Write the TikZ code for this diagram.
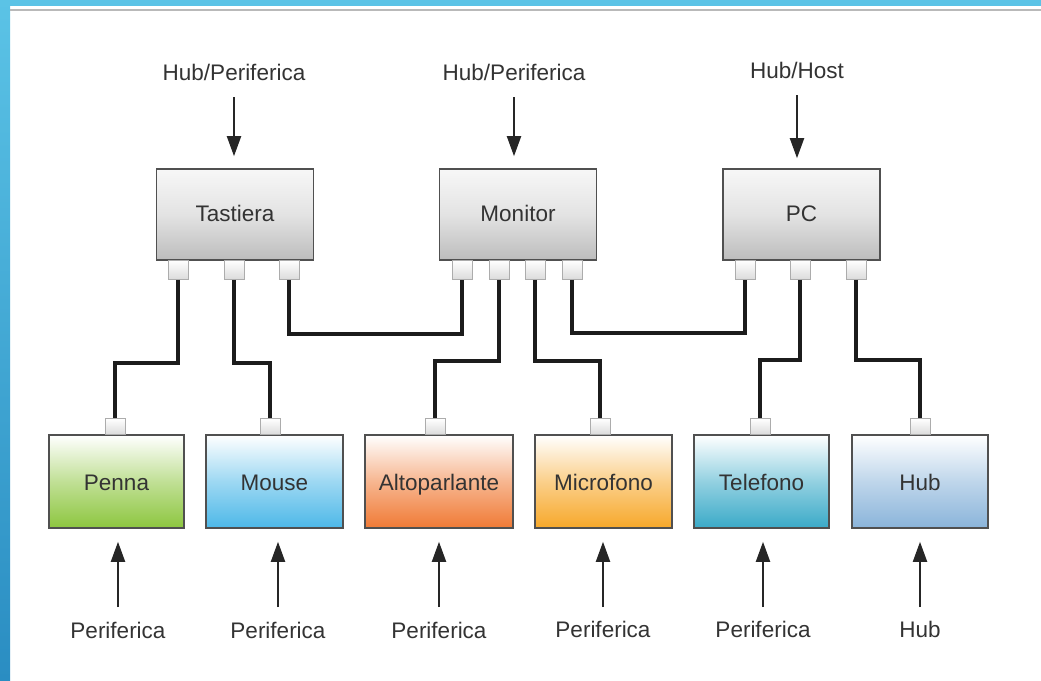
\documentclass[tikz,border=0pt]{standalone}
\usepackage{fontspec}
\setmainfont{Liberation Sans}
\usetikzlibrary{arrows.meta,calc}
\definecolor{textc}{HTML}{333333}
\definecolor{boxline}{HTML}{505050}
\definecolor{wirec}{HTML}{1C1C1C}
\definecolor{barblue}{HTML}{5BC3E6}
\definecolor{barblue2}{HTML}{2A8DC2}
\definecolor{pennac}{HTML}{8DC63F}
\definecolor{mousec}{HTML}{4DB8E8}
\definecolor{altoc}{HTML}{F07A35}
\definecolor{microc}{HTML}{F7A82A}
\definecolor{telc}{HTML}{3AAAC8}
\definecolor{hubc}{HTML}{8AB4DA}
\newcommand\lblfont{\fontsize{22.5}{26}\selectfont}
\begin{document}
\begin{tikzpicture}[x=1pt,y=-1pt,
  topbox/.style={draw=boxline, line width=1.6pt, minimum width=157pt, minimum height=91pt,
    top color=gray!6, bottom color=gray!52, middle color=gray!22, font=\lblfont, text=textc,
    inner sep=0pt, text height=16pt, text depth=3pt},
  botbox/.style={draw=boxline, line width=1.6pt, minimum height=93pt,
    top color=white, bottom color=#1, middle color=#1!55!white, font=\lblfont, text=textc,
    inner sep=0pt, text height=20pt, text depth=3pt},
  plug/.style={draw=gray!65, line width=0.8pt, top color=white, bottom color=gray!28,
    minimum width=20pt, inner sep=0pt},
  wire/.style={draw=wirec, line width=3.4pt},
  arr/.style={draw=black!85, line width=2pt, -{Triangle[length=20pt,width=14pt]}},
  lab/.style={font=\lblfont, text=textc, inner sep=0pt, anchor=base}]
\useasboundingbox (0,0) rectangle (1041,680);
\fill[white] (0,0) rectangle (1041,680);
\shade[top color=barblue, bottom color=barblue2] (0,0) rectangle (10,680);
\fill[barblue] (0,0) rectangle (1041,6);
\draw[gray!55, line width=1.5pt] (10,10) -- (1041,10);

% top boxes
\node[topbox] (tas) at (235,214.5) {Tastiera};
\node[topbox] (mon) at (518,214.5) {Monitor};
\node[topbox] (pc)  at (801.5,214.5) {PC};

% top ports
\node[plug, minimum height=19pt, anchor=north] (t1) at (178,260) {};
\node[plug, minimum height=19pt, anchor=north] (t2) at (234,260) {};
\node[plug, minimum height=19pt, anchor=north] (t3) at (289,260) {};
\node[plug, minimum height=19pt, anchor=north] (m1) at (462,260) {};
\node[plug, minimum height=19pt, anchor=north] (m2) at (499,260) {};
\node[plug, minimum height=19pt, anchor=north] (m3) at (535,260) {};
\node[plug, minimum height=19pt, anchor=north] (m4) at (572,260) {};
\node[plug, minimum height=19pt, anchor=north] (p1) at (745,260) {};
\node[plug, minimum height=19pt, anchor=north] (p2) at (800,260) {};
\node[plug, minimum height=19pt, anchor=north] (p3) at (856,260) {};

% bottom boxes
\node[botbox=pennac, minimum width=135pt] (pen) at (116.5,481.5) {Penna};
\node[botbox=mousec, minimum width=137pt] (mou) at (274.5,481.5) {Mouse};
\node[botbox=altoc, minimum width=148pt] (alt) at (439,481.5) {Altoparlante};
\node[botbox=microc, minimum width=137pt] (mic) at (603.5,481.5) {Microfono};
\node[botbox=telc, minimum width=135pt] (tel) at (761.5,481.5) {Telefono};
\node[botbox=hubc, minimum width=136pt] (hub) at (920,481.5) {Hub};

% bottom ports
\node[plug, minimum height=16pt, anchor=south] (b1) at (115,435) {};
\node[plug, minimum height=16pt, anchor=south] (b2) at (270,435) {};
\node[plug, minimum height=16pt, anchor=south] (b3) at (435,435) {};
\node[plug, minimum height=16pt, anchor=south] (b4) at (600,435) {};
\node[plug, minimum height=16pt, anchor=south] (b5) at (760,435) {};
\node[plug, minimum height=16pt, anchor=south] (b6) at (920,435) {};

% wires
\draw[wire] (t1.south) -- ++(0,83) -| (b1.north);
\draw[wire] (t2.south) -- ++(0,83) -| (b2.north);
\draw[wire] (t3.south) -- ++(0,54) -| (m1.south);
\draw[wire] (m2.south) -- ++(0,81) -| (b3.north);
\draw[wire] (m3.south) -- ++(0,81) -| (b4.north);
\draw[wire] (m4.south) -- ++(0,53) -| (p1.south);
\draw[wire] (p2.south) -- ++(0,80) -| (b5.north);
\draw[wire] (p3.south) -- ++(0,80) -| (b6.north);

% top labels and arrows
\node[lab] (l1) at (234,80) {Hub/Periferica};
\node[lab] (l2) at (514,80) {Hub/Periferica};
\node[lab] (l3) at (797,78) {Hub/Host};
\draw[arr, shorten <=17pt, shorten >=12pt] (l1.base) -- (l1.base |- tas.north);
\draw[arr, shorten <=17pt, shorten >=12pt] (l2.base) -- (l2.base |- mon.north);
\draw[arr, shorten <=17pt, shorten >=10pt] (l3.base) -- (l3.base |- pc.north);

% bottom labels and arrows
\node[lab] (q1) at (118,638) {Periferica};
\node[lab] (q2) at (278,638) {Periferica};
\node[lab] (q3) at (439,638) {Periferica};
\node[lab] (q4) at (603,637) {Periferica};
\node[lab] (q5) at (763,637) {Periferica};
\node[lab] (q6) at (920,637) {Hub};
\draw[arr, shorten <=31pt, shorten >=13pt] (q1.base) -- (q1.base |- pen.south);
\draw[arr, shorten <=31pt, shorten >=13pt] (q2.base) -- (q2.base |- mou.south);
\draw[arr, shorten <=31pt, shorten >=13pt] (q3.base) -- (q3.base |- alt.south);
\draw[arr, shorten <=30pt, shorten >=13pt] (q4.base) -- (q4.base |- mic.south);
\draw[arr, shorten <=30pt, shorten >=13pt] (q5.base) -- (q5.base |- tel.south);
\draw[arr, shorten <=30pt, shorten >=13pt] (q6.base) -- (q6.base |- hub.south);
\end{tikzpicture}
\end{document}
